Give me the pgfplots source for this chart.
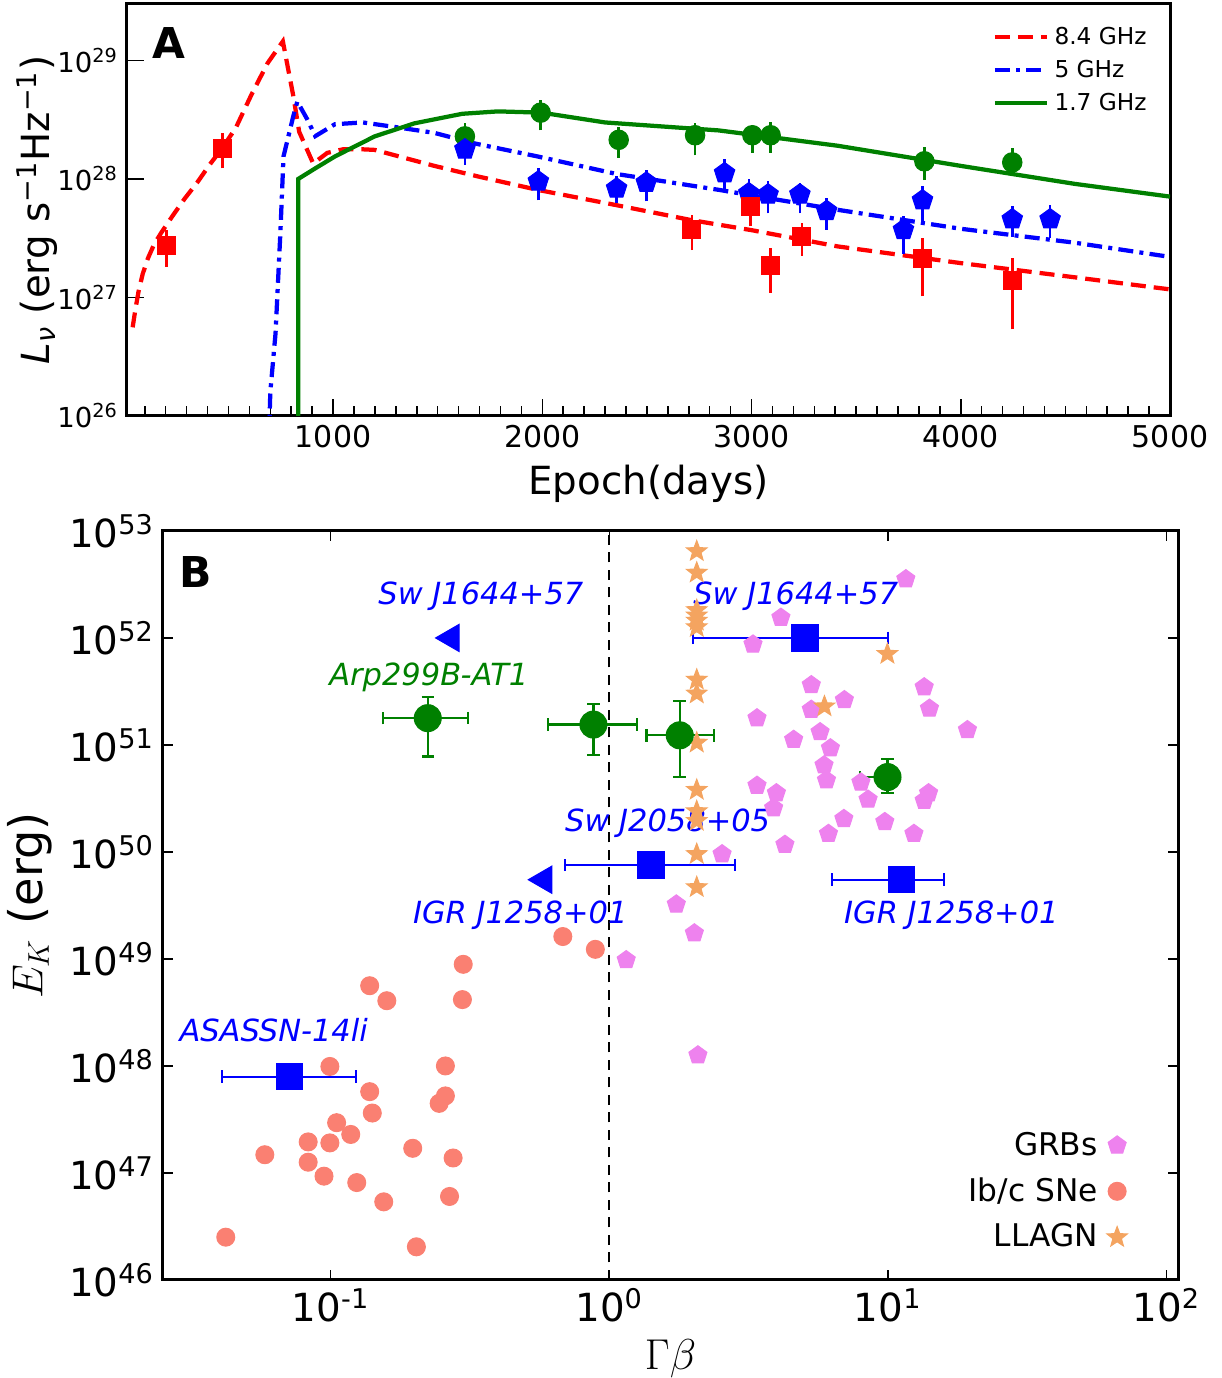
\documentclass[border=0pt]{standalone}
\usepackage{fontspec}
\setmainfont{DejaVu Sans}
\usepackage{pgfplots}
\pgfplotsset{compat=1.18}
\usetikzlibrary{plotmarks}

\definecolor{mplred}{RGB}{255,0,0}
\definecolor{mplblue}{RGB}{0,0,255}
\definecolor{mplgreen}{RGB}{0,128,0}
\definecolor{grbc}{RGB}{238,130,238}
\definecolor{snc}{RGB}{250,128,114}
\definecolor{agnc}{RGB}{244,164,96}

% filled five-point star
\pgfdeclareplotmark{fstar}{%
  \pgfpathmoveto{\pgfpointpolar{90}{\pgfplotmarksize}}%
  \pgfpathlineto{\pgfpointpolar{126}{0.42\pgfplotmarksize}}%
  \pgfpathlineto{\pgfpointpolar{162}{\pgfplotmarksize}}%
  \pgfpathlineto{\pgfpointpolar{198}{0.42\pgfplotmarksize}}%
  \pgfpathlineto{\pgfpointpolar{234}{\pgfplotmarksize}}%
  \pgfpathlineto{\pgfpointpolar{270}{0.42\pgfplotmarksize}}%
  \pgfpathlineto{\pgfpointpolar{306}{\pgfplotmarksize}}%
  \pgfpathlineto{\pgfpointpolar{342}{0.42\pgfplotmarksize}}%
  \pgfpathlineto{\pgfpointpolar{18}{\pgfplotmarksize}}%
  \pgfpathlineto{\pgfpointpolar{54}{0.42\pgfplotmarksize}}%
  \pgfpathclose\pgfusepathqfillstroke}

\begin{document}
\begin{tikzpicture}
\path[use as bounding box] (0pt,0pt) rectangle (488.4pt,-551.2pt);

% ---------------- panel A ----------------
\begin{axis}[
  at={(50.8pt,-166.4pt)}, anchor=south west,
  scale only axis, width=417.2pt, height=164.8pt,
  ymode=log, log basis y=10,
  xmin=15, xmax=5000, ymin=1e26, ymax=3e29,
  xtick={1000,2000,3000,4000,5000},
  xticklabels={1000,2000,3000,4000,5000},
  minor xtick={100,200,...,4900},
  ytick={1e26,1e27,1e28,1e29},
  tick pos=left, tick align=inside,
  major tick length=7pt, minor tick length=4pt,
  axis line style={line width=1.2pt},
  every tick/.style={black, line width=0.6pt},
  xticklabel style={font=\fontsize{12}{14}\selectfont},
  yticklabel style={font=\fontsize{11}{13}\selectfont},
  /pgf/number format/assume math mode=true,
  log number format basis/.code 2 args={#1\textsuperscript{\pgfmathprintnumber{#2}}},
  xlabel={Epoch(days)},
  ylabel={\textit{L}\textsubscript{\textit{ν}} (erg s\textsuperscript{−1}Hz\textsuperscript{−1})},
  xlabel style={font=\fontsize{15.5}{18}\selectfont},
  every axis y label/.style={at={(rel axis cs:-0.086,0.5)}, rotate=90, anchor=center,
    font=\fontsize{15.5}{18}\selectfont},
  unbounded coords=jump,
  legend style={draw=none, fill=none, at={(0.99,0.97)}, anchor=north east,
    font=\fontsize{9.3}{10.5}\selectfont, row sep=0.8pt},
  legend cell align=left,
  legend image code/.code={\draw[#1] (0pt,0pt) -- (21pt,0pt);},
]
\addplot[mplred, line width=1.7pt, dash pattern=on 6pt off 3.2pt] coordinates {
 (42,5.6e26) (55,7.9e26) (70,1.12e27) (90,1.58e27) (115,2.14e27) (145,2.82e27)
 (180,3.55e27) (230,4.8e27) (290,6.8e27) (350,9.3e27) (410,1.32e28) (470,1.82e28)
 (535,2.7e28) (611,5.2e28) (687,9.5e28) (760,1.45e29) (810,5.0e28)
 (838,2.5e28) (905,1.35e28) (972,1.66e28) (1047,1.78e28) (1142,1.78e28)
 (1199,1.76e28) (1484,1.29e28) (1693,1.05e28) (1977,8.1e27) (2357,6.0e27)
 (2711,4.5e27) (3000,3.7e27) (3410,2.7e27) (4000,1.95e27) (4544,1.48e27) (5000,1.17e27)};
\addlegendentry{8.4 GHz}
\addplot[mplblue, line width=1.7pt, dash pattern=on 6pt off 2.5pt on 1.6pt off 2.5pt] coordinates {
 (680,1e25) (700,1.6e26) (725,5.0e26) (748,3.5e27) (763,1.55e28) (810,3.4e28)
 (829,4.5e28) (876,3.2e28) (915,2.3e28) (1009,2.9e28) (1142,3.0e28) (1294,2.75e28)
 (1484,2.45e28) (1674,2.0e28) (1977,1.55e28) (2357,1.1e28) (2843,8.1e27)
 (3410,5.5e27) (4000,3.8e27) (4544,2.9e27) (5000,2.2e27)};
\addlegendentry{5 GHz}
\addplot[mplgreen, line width=1.7pt] coordinates {
 (833,1e25) (833,1.0e28) (915,1.23e28) (1009,1.55e28) (1199,2.29e28) (1389,2.95e28)
 (1617,3.55e28) (1788,3.72e28) (1996,3.63e28) (2300,3.0e28) (2843,2.57e28)
 (3410,1.91e28) (4000,1.29e28) (4544,9.1e27) (5000,7.1e27)};
\addlegendentry{1.7 GHz}

% 1.7 GHz data
\addplot[mplgreen, line width=1pt, forget plot] coordinates {
 (1630,1.78e28) (1630,2.95e28) (1630,nan)
 (1992,2.57e28) (1992,4.68e28) (1992,nan)
 (2365,1.51e28) (2365,2.75e28) (2365,nan)
 (2730,1.58e28) (2730,2.95e28) (2730,nan)
 (3004,1.66e28) (3004,2.82e28) (3004,nan)
 (3091,1.66e28) (3091,3.02e28) (3091,nan)
 (3826,9.77e27) (3826,1.86e28) (3826,nan)
 (4246,1.07e28) (4246,1.82e28)};
\addplot[only marks, mark=*, mark size=3.9pt, mplgreen, forget plot] coordinates {
 (1630,2.29e28) (1992,3.63e28) (2365,2.14e28) (2730,2.34e28) (3004,2.34e28)
 (3091,2.34e28) (3826,1.41e28) (4246,1.38e28)};

% 5 GHz data
\addplot[mplblue, line width=1pt, forget plot] coordinates {
 (1630,1.32e28) (1630,2.0e28) (1630,nan)
 (1981,6.61e27) (1981,1.23e28) (1981,nan)
 (2355,6.31e27) (2355,1.05e28) (2355,nan)
 (2497,6.46e27) (2497,1.20e28) (2497,nan)
 (2871,7.76e27) (2871,1.48e28) (2871,nan)
 (2987,5.13e27) (2987,1.0e28) (2987,nan)
 (3079,5.13e27) (3079,9.55e27) (3079,nan)
 (3231,5.13e27) (3231,9.33e27) (3231,nan)
 (3359,3.72e27) (3359,6.92e27) (3359,nan)
 (3726,2.34e27) (3726,4.90e27) (3726,nan)
 (3817,4.37e27) (3817,8.71e27) (3817,nan)
 (4246,3.24e27) (4246,5.89e27) (4246,nan)
 (4427,3.16e27) (4427,6.03e27)};
\addplot[only marks, mark=pentagon*, mark size=4.3pt, mplblue, forget plot] coordinates {
 (1630,1.78e28) (1981,9.55e27) (2355,8.32e27) (2497,9.33e27) (2871,1.12e28)
 (2987,7.59e27) (3079,7.41e27) (3231,7.41e27) (3359,5.37e27) (3726,3.72e27)
 (3817,6.61e27) (4246,4.57e27) (4427,4.57e27)};

% 8.4 GHz data
\addplot[mplred, line width=1pt, forget plot] coordinates {
 (203,1.82e27) (203,3.72e27) (203,nan)
 (472,1.23e28) (472,2.45e28) (472,nan)
 (2715,2.51e27) (2715,5.01e27) (2715,nan)
 (2996,3.98e27) (2996,6.92e27) (2996,nan)
 (3091,1.10e27) (3091,2.63e27) (3091,nan)
 (3240,2.24e27) (3240,4.27e27) (3240,nan)
 (3817,1.02e27) (3817,3.16e27) (3817,nan)
 (4246,5.37e26) (4246,2.14e27)};
\addplot[only marks, mark=square*, mark size=3.6pt, mplred, forget plot] coordinates {
 (203,2.75e27) (472,1.82e28) (2715,3.72e27) (2996,5.89e27) (3091,1.86e27)
 (3240,3.24e27) (3817,2.14e27) (4246,1.38e27)};

\node[font=\bfseries\fontsize{17}{20}\selectfont] at (rel axis cs:0.040,0.905) {A};
\end{axis}

% ---------------- panel B ----------------
\begin{axis}[
  at={(65.2pt,-512pt)}, anchor=south west,
  scale only axis, width=406pt, height=299.6pt,
  xmode=log, ymode=log, log basis x=10, log basis y=10,
  xmin=0.025, xmax=110, ymin=1e46, ymax=1e53,
  xtick={0.1,1,10,100},
  ytick={1e46,1e47,1e48,1e49,1e50,1e51,1e52,1e53},
  tick align=inside,
  major tick length=4pt, minor tick length=2pt,
  axis line style={line width=1.2pt},
  every tick/.style={black, line width=0.6pt},
  tick label style={font=\fontsize{15.5}{18}\selectfont},
  /pgf/number format/assume math mode=true,
  log number format basis/.code 2 args={#1\textsuperscript{\pgfmathprintnumber{#2}}},
  xlabel={$\Gamma\beta$},
  ylabel={$E_K$ (erg)},
  label style={font=\fontsize{18.5}{21}\selectfont},
  legend style={draw=none, fill=none, at={(0.958,0.025)}, anchor=south east,
    font=\fontsize{12.5}{14}\selectfont, row sep=3.5pt, column sep=1.7pt},
  legend plot pos=right, legend cell align=right,
]
\addplot[only marks, mark=pentagon*, mark size=3.8pt, grbc] coordinates {
 (11.6,3.55e52) (4.13,1.55e52) (3.28,8.71e51) (5.31,3.63e51) (13.5,3.47e51)
 (6.98,2.63e51) (5.31,2.14e51) (14.1,2.19e51) (3.39,1.78e51) (19.3,1.38e51)
 (5.71,1.32e51) (4.59,1.12e51) (6.22,9.33e50) (5.90,6.46e50) (6.02,4.68e50)
 (8.00,4.47e50) (3.39,4.17e50) (3.98,3.55e50) (14.0,3.55e50) (8.49,3.09e50)
 (13.5,3.02e50) (3.89,2.57e50) (6.95,2.04e50) (9.75,1.91e50) (12.4,1.48e50)
 (6.12,1.48e50) (4.27,1.17e50) (2.54,9.55e49) (1.74,3.24e49) (2.02,1.74e49)
 (1.15,9.77e48) (2.08,1.26e48)};
\addlegendentry{GRBs}
\addplot[only marks, mark=*, mark size=3.6pt, snc] coordinates {
 (0.681,1.62e49) (0.891,1.23e49) (0.299,8.91e48) (0.138,5.62e48) (0.159,4.07e48)
 (0.297,4.17e48) (0.0993,9.89e47) (0.258,1.0e48) (0.138,5.75e47) (0.258,5.25e47)
 (0.245,4.47e47) (0.141,3.63e47) (0.105,2.95e47) (0.118,2.29e47) (0.083,1.95e47)
 (0.0993,1.91e47) (0.058,1.48e47) (0.083,1.26e47) (0.197,1.70e47) (0.275,1.38e47)
 (0.0946,9.33e46) (0.124,8.13e46) (0.155,5.37e46) (0.267,6.03e46) (0.042,2.51e46)
 (0.203,2.04e46)};
\addlegendentry{Ib/c SNe}
\addplot[only marks, mark=fstar, mark size=4.3pt, agnc] coordinates {
 (2.06,6.46e52) (2.06,4.07e52) (2.06,1.82e52) (2.06,1.62e52) (2.06,1.45e52)
 (2.06,1.26e52) (9.96,7.08e51) (2.06,4.07e51) (2.06,3.02e51) (5.92,2.29e51)
 (2.06,1.05e51) (2.06,3.80e50) (2.06,2.40e50) (2.06,1.95e50) (2.06,9.55e49)
 (2.06,4.68e49)};
\addlegendentry{LLAGN}

\addplot[black, line width=0.9pt, dash pattern=on 4pt off 3pt, forget plot] coordinates {(1,1e46) (1,1e53)};

\addplot[only marks, mark=*, mark size=5.4pt, mplgreen, forget plot,
  error bars/.cd, x dir=both, x explicit, y dir=both, y explicit,
  error bar style={line width=0.9pt},
  error mark options={rotate=90, line width=0.9pt, mark size=2.5pt}]
coordinates {
 (0.223,1.78e51) += (0.088,1.04e51) -= (0.069,1.00e51)
 (0.877,1.55e51) += (0.381,0.85e51) -= (0.274,0.74e51)
 (1.79,1.23e51) += (0.59,1.34e51) -= (0.43,0.73e51)
 (9.97,5.01e50) += (0.3,2.40e50) -= (2.02,1.46e50)};

\addplot[only marks, mark=square*, mark size=5.3pt, mplblue, forget plot,
  error bars/.cd, x dir=both, x explicit,
  error bar style={line width=0.9pt},
  error mark options={rotate=90, line width=0.9pt, mark size=2.5pt}]
coordinates {
 (5.03,1e52) += (4.97,0) -= (3.03,0)
 (1.41,7.59e49) += (1.42,0) -= (0.718,0)
 (11.2,5.50e49) += (4.7,0) -= (4.88,0)
 (0.071,7.94e47) += (0.0526,0) -= (0.0303,0)};

\addplot[only marks, mark=triangle*, mark size=6.3pt, mark options={rotate=90}, mplblue, forget plot]
coordinates {(0.271,1e52) (0.583,5.50e49)};

\node[font=\bfseries\fontsize{17}{20}\selectfont] at (rel axis cs:0.0325,0.945) {B};
\begin{scope}[every node/.style={font=\itshape\fontsize{12.2}{14}\selectfont}]
\node[text=mplblue] at (axis cs:0.346,2.45e52) {Sw J1644+57};
\node[text=mplblue] at (axis cs:4.67,2.45e52) {Sw J1644+57};
\node[text=mplgreen] at (axis cs:0.225,4.3e51) {Arp299B-AT1};
\node[text=mplblue] at (axis cs:1.62,1.86e50) {Sw J2058+05};
\node[text=mplblue] at (axis cs:0.479,2.57e49) {IGR J1258+01};
\node[text=mplblue] at (axis cs:16.9,2.57e49) {IGR J1258+01};
\node[text=mplblue] at (axis cs:0.0624,2.14e48) {ASASSN-14li};
\end{scope}
\end{axis}
\end{tikzpicture}
\end{document}
